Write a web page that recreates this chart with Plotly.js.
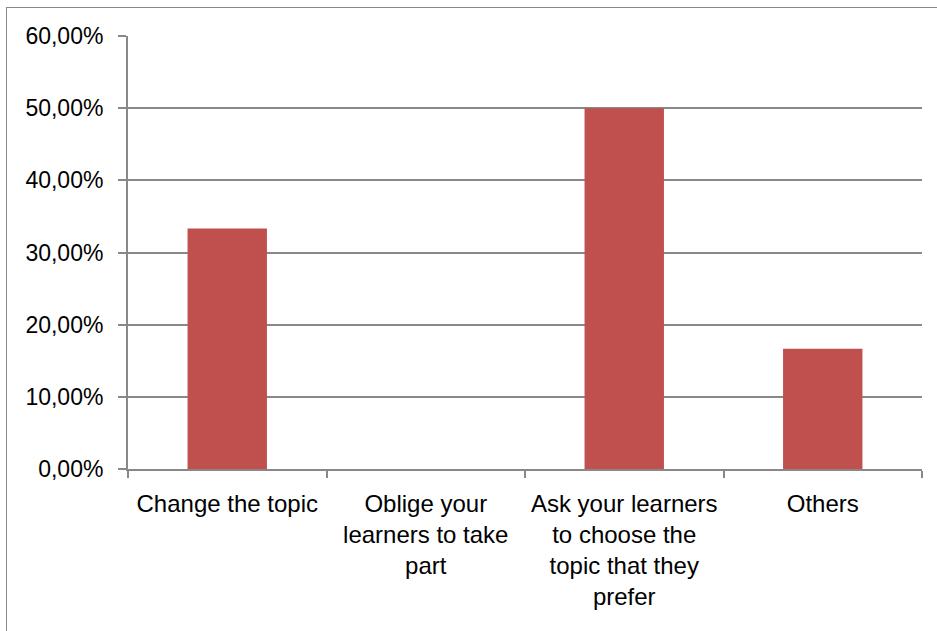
<!DOCTYPE html>
<html>
<head>
<meta charset="utf-8">
<script src="https://cdn.plot.ly/plotly-3.0.1.min.js"></script>
<style>
  html, body { margin: 0; padding: 0; background: #fff; overflow: hidden; }
  #chart { width: 937px; height: 631px; }
  #frame { position: absolute; left: 6px; top: 7px; width: 960px; height: 660px;
           border: 1.6px solid #888; pointer-events: none; }
</style>
</head>
<body>
<div id="chart"></div>
<div id="frame"></div>
<script>
const categories = [
  "Change the topic",
  "Oblige your<br>learners to take<br>part",
  "Ask your learners<br>to choose the<br>topic that they<br>prefer",
  "Others"
];
const values = [0.3333, 0, 0.50, 0.1667];
const tickValues = [0, 0.1, 0.2, 0.3, 0.4, 0.5, 0.6];
const tickLabels = ["0,00%", "10,00%", "20,00%", "30,00%", "40,00%", "50,00%", "60,00%"];

const yFont = { family: "Liberation Sans, Arial, sans-serif", size: 23, color: "#000" };
const xFont = { family: "Liberation Sans, Arial, sans-serif", size: 24, color: "#000" };

Plotly.newPlot("chart", [{
  type: "bar",
  x: categories,
  y: values,
  marker: { color: "#C0504D", line: { width: 0 } },
  hoverinfo: "none"
}], {
  width: 937, height: 631,
  margin: { l: 128, r: 15, t: 36, b: 162 },
  paper_bgcolor: "#fff", plot_bgcolor: "#fff",
  bargap: 0.6,
  showlegend: false,
  font: yFont,
  xaxis: {
    type: "category",
    tickson: "boundaries",
    ticks: "outside", ticklen: 7, tickwidth: 2, tickcolor: "#888",
    showline: true, linecolor: "#888", linewidth: 2,
    showgrid: false, zeroline: false,
    tickfont: xFont,
    ticklabelstandoff: 12
  },
  yaxis: {
    range: [0, 0.6],
    tickvals: tickValues, ticktext: tickLabels,
    ticks: "outside", ticklen: 8, tickwidth: 2, tickcolor: "#888",
    showline: true, linecolor: "#888", linewidth: 2,
    showgrid: true, gridcolor: "#888", gridwidth: 2,
    zeroline: false,
    tickfont: yFont,
    ticklabelstandoff: 10
  }
}, { displayModeBar: false, staticPlot: true });
</script>
</body>
</html>
